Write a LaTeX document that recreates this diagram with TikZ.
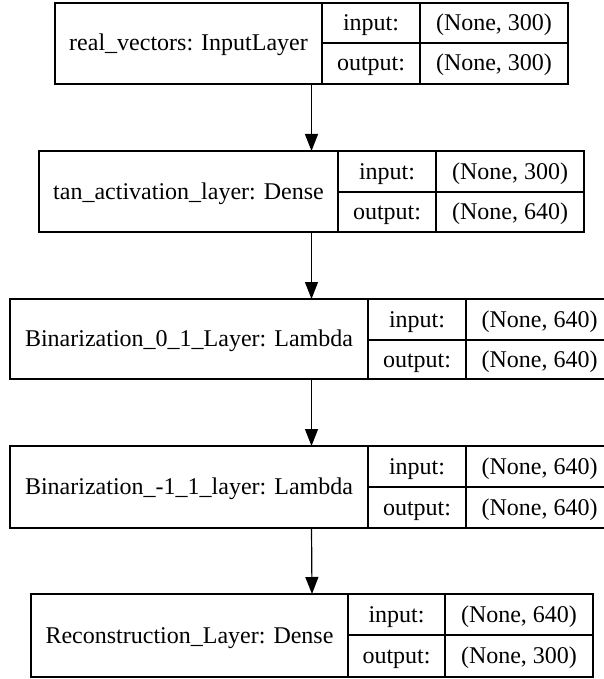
\documentclass[tikz,border=0pt]{standalone}
\usepackage{fontspec}
\setmainfont{Liberation Serif}
\usetikzlibrary{arrows.meta}
\tikzset{
  cell/.style={draw, line width=1.2pt, inner sep=0pt, outer sep=0pt, anchor=north west, text height=18pt, text depth=3pt, font=\fontsize{24}{28}\selectfont},
  rec/.style={draw, line width=1.2pt, inner sep=0pt, outer sep=0pt, anchor=north west},
  arr/.style={line width=1.2pt, -{Triangle[length=17pt,width=13pt]}}
}
\begin{document}
\begin{tikzpicture}[x=1pt,y=-1pt]
\clip (0,0) rectangle (604,679);
% record 1
\node[rec, minimum width=513pt, minimum height=81pt] (r1) at (55,3) {};
\node[cell, minimum width=267pt, minimum height=81pt] (r1name) at (55,3) {real\_vectors: InputLayer};
\node[cell, minimum width=98pt, minimum height=40pt] (r1in) at (322,3) {input:};
\node[cell, minimum width=148pt, minimum height=40pt] (r1inv) at (420,3) {(None, 300)};
\node[cell, minimum width=98pt, minimum height=41pt] (r1out) at (322,43) {output:};
\node[cell, minimum width=148pt, minimum height=41pt] (r1outv) at (420,43) {(None, 300)};
% record 2
\node[rec, minimum width=545pt, minimum height=81pt] (r2) at (39,151) {};
\node[cell, minimum width=299pt, minimum height=81pt] (r2name) at (39,151) {tan\_activation\_layer: Dense};
\node[cell, minimum width=98pt, minimum height=41pt] (r2in) at (338,151) {input:};
\node[cell, minimum width=148pt, minimum height=41pt] (r2inv) at (436,151) {(None, 300)};
\node[cell, minimum width=98pt, minimum height=40pt] (r2out) at (338,192) {output:};
\node[cell, minimum width=148pt, minimum height=40pt] (r2outv) at (436,192) {(None, 640)};
% record 3
\node[rec, minimum width=603pt, minimum height=80pt] (r3) at (10,299) {};
\node[cell, minimum width=358pt, minimum height=80pt] (r3name) at (10,299) {Binarization\_0\_1\_Layer: Lambda};
\node[cell, minimum width=98pt, minimum height=41pt] (r3in) at (368,299) {input:};
\node[cell, minimum width=147pt, minimum height=41pt] (r3inv) at (466,299) {(None, 640)};
\node[cell, minimum width=98pt, minimum height=39pt] (r3out) at (368,340) {output:};
\node[cell, minimum width=147pt, minimum height=39pt] (r3outv) at (466,340) {(None, 640)};
% record 4
\node[rec, minimum width=603pt, minimum height=82pt] (r4) at (10,446) {};
\node[cell, minimum width=358pt, minimum height=82pt] (r4name) at (10,446) {Binarization\_-1\_1\_layer: Lambda};
\node[cell, minimum width=98pt, minimum height=41pt] (r4in) at (368,446) {input:};
\node[cell, minimum width=147pt, minimum height=41pt] (r4inv) at (466,446) {(None, 640)};
\node[cell, minimum width=98pt, minimum height=41pt] (r4out) at (368,487) {output:};
\node[cell, minimum width=147pt, minimum height=41pt] (r4outv) at (466,487) {(None, 640)};
% record 5
\node[rec, minimum width=562pt, minimum height=83pt] (r5) at (31,594) {};
\node[cell, minimum width=317pt, minimum height=83pt] (r5name) at (31,594) {Reconstruction\_Layer: Dense};
\node[cell, minimum width=97pt, minimum height=41pt] (r5in) at (348,594) {input:};
\node[cell, minimum width=148pt, minimum height=41pt] (r5inv) at (445,594) {(None, 640)};
\node[cell, minimum width=97pt, minimum height=42pt] (r5out) at (348,635) {output:};
\node[cell, minimum width=148pt, minimum height=42pt] (r5outv) at (445,635) {(None, 300)};
% arrows
\draw[arr] (r1.south) -- (r2.north);
\draw[arr] (r2.south) -- (r3.north);
\draw[arr] (r3.south) -- (r4.north);
\draw[arr] (r4.south) -- (r5.north);
\end{tikzpicture}
\end{document}
